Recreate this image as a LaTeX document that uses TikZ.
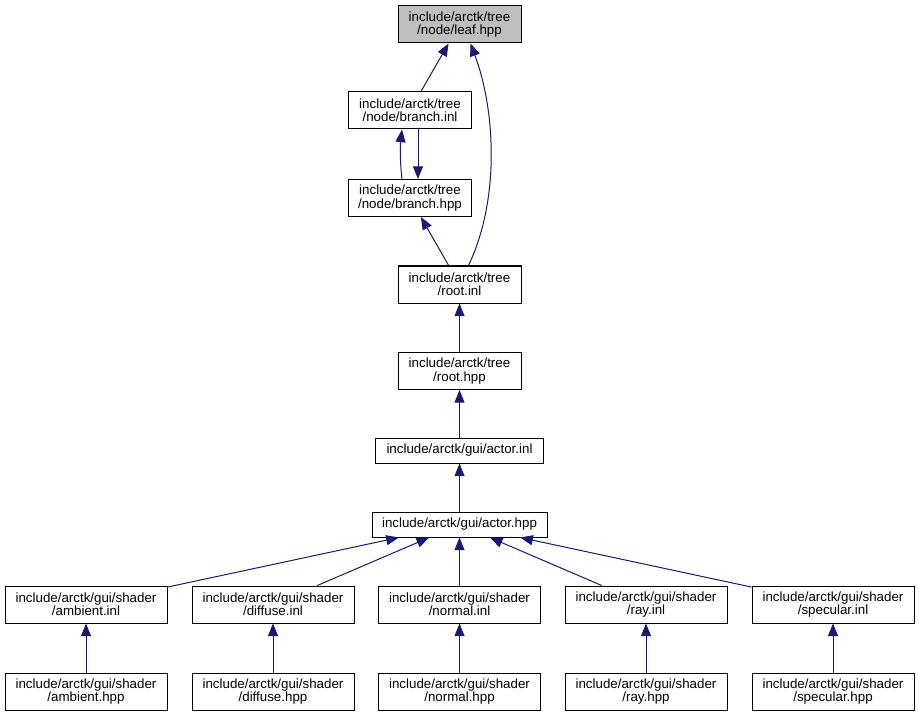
\documentclass[tikz,border=0pt]{standalone}
\usepackage{fontspec}
\setmainfont{Liberation Sans}
\usetikzlibrary{arrows.meta}
\definecolor{edgeblue}{HTML}{191970}
\definecolor{leafgray}{HTML}{BFBFBF}

\begin{document}
\begin{tikzpicture}[
    x=0.75pt, y=-0.75pt,
    file/.style = {rectangle, draw, line width=0.75pt, align=center, inner sep=0pt, font=\fontsize{10}{10}\selectfont, minimum height=27.75pt},
    treefile/.style = {file, minimum width=92.25pt},
    shaderfile/.style = {file, minimum width=121.5pt},
    guifile/.style = {file, minimum height=18.75pt},
    arrow/.style = {-{Triangle[length=9.5pt, width=7.5pt]}, edgeblue, line width=0.75pt}
]
    \useasboundingbox (0,0) rectangle (919,716);

    \node[treefile, fill=leafgray] (leafhpp) at (459.5,24.5) {include/arctk/tree\\/node/leaf.hpp};
    \node[treefile] (branchinl) at (410,110.5) {include/arctk/tree\\/node/branch.inl};
    \node[treefile] (branchhpp) at (410,198) {include/arctk/tree\\/node/branch.hpp};
    \node[treefile] (rootinl) at (459.5,284.5) {include/arctk/tree\\/root.inl};
    \node[treefile] (roothpp) at (459.5,371) {include/arctk/tree\\/root.hpp};

    \node[guifile, minimum width=126pt] (actorinl) at (459.5,450.5) {include/arctk/gui/actor.inl};
    \node[guifile, minimum width=131.25pt] (actorhpp) at (459.5,524.5) {include/arctk/gui/actor.hpp};

    % shader sources
    \node[shaderfile] (ambientinl) at (86,604.5) {include/arctk/gui/shader\\/ambient.inl};
    \node[shaderfile] (diffuseinl) at (273,604.5) {include/arctk/gui/shader\\/diffuse.inl};
    \node[shaderfile] (normalinl) at (459.5,604.5) {include/arctk/gui/shader\\/normal.inl};
    \node[shaderfile] (rayinl) at (646,604.5) {include/arctk/gui/shader\\/ray.inl};
    \node[shaderfile] (specularinl) at (833,604.5) {include/arctk/gui/shader\\/specular.inl};

    % shader headers
    \node[shaderfile] (ambienthpp) at (86,691.5) {include/arctk/gui/shader\\/ambient.hpp};
    \node[shaderfile] (diffusehpp) at (273,691.5) {include/arctk/gui/shader\\/diffuse.hpp};
    \node[shaderfile] (normalhpp) at (459.5,691.5) {include/arctk/gui/shader\\/normal.hpp};
    \node[shaderfile] (rayhpp) at (646,691.5) {include/arctk/gui/shader\\/ray.hpp};
    \node[shaderfile] (specularhpp) at (833,691.5) {include/arctk/gui/shader\\/specular.hpp};

    \draw[arrow] (branchinl) -- (leafhpp);
    \draw[arrow] ([xshift=6.75pt]rootinl.north) .. controls +(31.5,-66) and +(25,67) .. ([xshift=8.25pt]leafhpp.south);
    \draw[arrow] ([xshift=-6pt]branchhpp.north) .. controls +(-2,-17) and +(-2,17) .. ([xshift=-6pt]branchinl.south);
    \draw[arrow] ([xshift=6pt]branchinl.south) -- ([xshift=6pt]branchhpp.north);
    \draw[arrow] (rootinl) -- (branchhpp);
    \draw[arrow] (roothpp) -- (rootinl);
    \draw[arrow] (actorinl) -- (roothpp);
    \draw[arrow] (actorhpp) -- (actorinl);

    \draw[arrow] (ambientinl) -- (actorhpp);
    \draw[arrow] (diffuseinl) -- (actorhpp);
    \draw[arrow] (normalinl) -- (actorhpp);
    \draw[arrow] (rayinl) -- (actorhpp);
    \draw[arrow] (specularinl) -- (actorhpp);

    \draw[arrow] (ambienthpp) -- (ambientinl);
    \draw[arrow] (diffusehpp) -- (diffuseinl);
    \draw[arrow] (normalhpp) -- (normalinl);
    \draw[arrow] (rayhpp) -- (rayinl);
    \draw[arrow] (specularhpp) -- (specularinl);
\end{tikzpicture}
\end{document}
